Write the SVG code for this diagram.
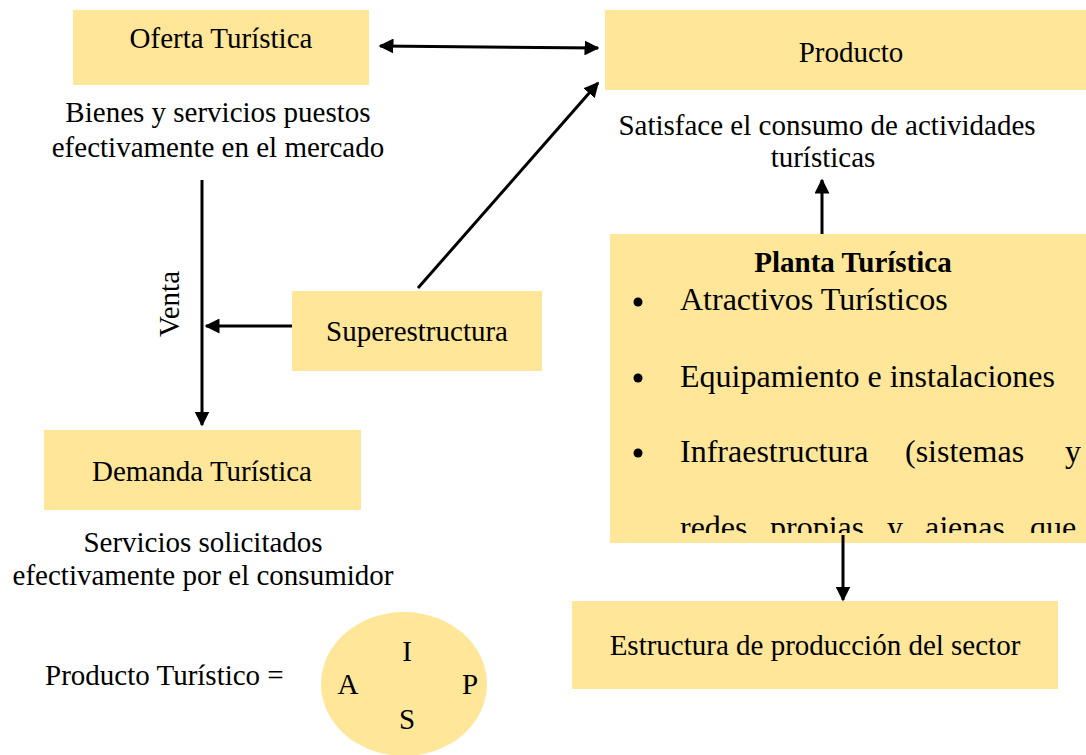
<svg xmlns="http://www.w3.org/2000/svg" width="1086" height="755" viewBox="0 0 1086 755">
<style>
.box{fill:#FFE699}
text{font-family:'Liberation Serif','DejaVu Serif',serif;font-size:29px;fill:#000}
.c{text-anchor:middle}
.b{font-size:32px}
.ln{stroke:#000;stroke-width:3;fill:none}
</style>
<defs>
<marker id="ah" viewBox="0 0 10 10" refX="9" refY="5" markerWidth="5" markerHeight="5" orient="auto-start-reverse" markerUnits="strokeWidth">
<path d="M0,0 L10,5 L0,10 z" fill="#000"/>
</marker>
<clipPath id="pclip"><rect x="610" y="234" width="476" height="299"/></clipPath>
</defs>
<rect width="1086" height="755" fill="#fff"/>

<g id="oferta">
<rect class="box" x="73" y="10" width="296" height="75"/>
<text class="c" x="221" y="48">Oferta Turística</text>
</g>
<g id="oferta-desc">
<text class="c" x="218" y="122">Bienes y servicios puestos</text>
<text class="c" x="218" y="157">efectivamente en el mercado</text>
</g>
<g id="producto">
<rect class="box" x="605" y="10" width="481" height="80"/>
<text class="c" x="851" y="62">Producto</text>
</g>
<g id="producto-desc">
<text class="c" x="827" y="135">Satisface el consumo de actividades</text>
<text class="c" x="823" y="167">turísticas</text>
</g>
<g id="superestructura">
<rect class="box" x="292" y="291" width="250" height="80"/>
<text class="c" x="417" y="341">Superestructura</text>
</g>
<g id="demanda">
<rect class="box" x="44" y="430" width="317" height="80"/>
<text class="c" x="202" y="481">Demanda Turística</text>
</g>
<g id="demanda-desc">
<text class="c" x="203" y="552">Servicios solicitados</text>
<text class="c" x="203" y="585">efectivamente por el consumidor</text>
</g>
<g id="planta">
<rect class="box" x="610" y="234" width="476" height="309"/>
<g clip-path="url(#pclip)">
<text class="c" x="853" y="272" font-weight="bold">Planta Turística</text>
<circle cx="638" cy="302" r="4.5"/>
<circle cx="638" cy="378" r="4.5"/>
<circle cx="638" cy="453" r="4.5"/>
<text class="b" x="680" y="310">Atractivos Turísticos</text>
<text class="b" x="680" y="387">Equipamiento e instalaciones</text>
<text class="b" x="680" y="462">Infraestructura</text>
<text class="b" x="905" y="462">(sistemas</text>
<text class="b" x="1065" y="462">y</text>
<text class="b" x="680" y="538">redes</text>
<text class="b" x="770" y="538">propias</text>
<text class="b" x="887" y="538">y</text>
<text class="b" x="925" y="538">ajenas</text>
<text class="b" x="1030" y="538">que</text>
</g>
</g>
<g id="estructura">
<rect class="box" x="572" y="601" width="486" height="88"/>
<text class="c" x="815" y="655">Estructura de producción del sector</text>
</g>
<g id="producto-turistico">
<text x="45" y="685">Producto Turístico =</text>
<ellipse class="box" cx="404" cy="684" rx="83" ry="72"/>
<text class="c" x="407" y="661">I</text>
<text class="c" x="348" y="694">A</text>
<text class="c" x="470" y="694">P</text>
<text class="c" x="407" y="729">S</text>
</g>
<g id="venta-label">
<text class="c" transform="translate(179,304) rotate(-90)">Venta</text>
</g>

<g id="connectors">
<line class="ln" x1="380" y1="46" x2="598" y2="48" marker-start="url(#ah)" marker-end="url(#ah)"/>
<line class="ln" x1="202" y1="180" x2="202" y2="425" marker-end="url(#ah)"/>
<line class="ln" x1="292" y1="326" x2="206" y2="326" marker-end="url(#ah)"/>
<line class="ln" x1="418" y1="288" x2="598" y2="83" marker-end="url(#ah)"/>
<line class="ln" x1="822" y1="234" x2="822" y2="180" marker-end="url(#ah)"/>
<line class="ln" x1="843" y1="535" x2="843" y2="600" marker-end="url(#ah)"/>
</g>
</svg>
